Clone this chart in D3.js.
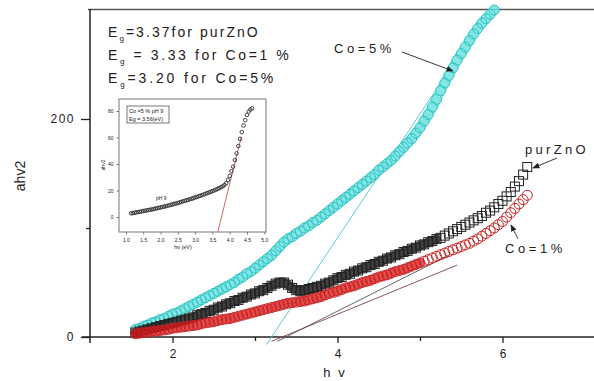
<!DOCTYPE html>
<html>
<head>
<meta charset="utf-8">
<script src="https://cdn.jsdelivr.net/npm/d3@7"></script>
<style>
  body { margin: 0; background: #fff; }
  text { font-family: "Liberation Sans", Arial, sans-serif; fill: #222; }
</style>
</head>
<body>
<div id="chart"></div>
<script>
// photon energy grid (eV) shared by the three main series
const hv = [1.55,1.60,1.65,1.70,1.75,1.80,1.85,1.90,1.95,2.00,2.05,2.10,2.15,2.20,2.25,2.30,2.35,2.40,2.45,2.50,
  2.55,2.60,2.65,2.70,2.75,2.80,2.85,2.90,2.95,3.00,3.05,3.10,3.15,3.20,3.25,3.30,3.35,3.40,3.45,3.50,
  3.55,3.60,3.65,3.70,3.75,3.80,3.85,3.90,3.95,4.00,4.05,4.10,4.15,4.20,4.25,4.30,4.35,4.40,4.45,4.50,
  4.55,4.60,4.65,4.70,4.75,4.80,4.85,4.90,4.95,5.00,5.05,5.10,5.15,5.20,5.25,5.30,5.35,5.40,5.45,5.50,
  5.55,5.60,5.65,5.70,5.75,5.80,5.85,5.90,5.95,6.00,6.05,6.10,6.15,6.20,6.25,6.30];

// Co = 5 % (cyan circles) - goes off the top after 5.9
const co5 = [7,8,10,11,13,14,16,17,19,21,22,24,26,28,30,32,34,36,38,40,
  42,44,46,48,50,53,55,58,60,63,66,69,72,75,79,83,87,90,92,95,
  97,100,102,105,107,110,113,116,119,122,125,128,131,134,137,140,143,146,149,153,
  156,159,162,166,170,174,178,182,187,192,198,204,211,218,226,233,240,247,254,260,
  266,272,278,283,288,292,296,300,null,null,null,null,null,null,null,null];

// pure ZnO (black squares)
const pur = [4,5,6,7,8,9,10,11,12,13,14,15,16,17,18,20,21,22,24,25,
  27,28,30,31,33,34,36,37,39,40,42,43,45,47,49,50,50,48,45,43,
  42,43,44,45,46,47,49,50,52,54,55,57,58,60,61,63,64,66,67,69,
  70,72,73,75,76,78,79,81,82,84,85,87,88,90,91,93,95,97,99,101,
  103,105,107,109,111,114,116,119,122,125,129,133,138,143,149,156];

// Co = 1 % (red circles)
const co1 = [3,3.5,4,4.5,5,5.5,6,6.5,7,8,8.5,9,9.5,10,10.5,11,12,13,13.5,14,
  15,16,16.5,17,18,19,20,21,22,23,24,25,26,27,28,29,30,31,31.5,32,
  32.5,33,34,35,36,37,38.5,40,41,42,43.5,45,46,47,48.5,50,51,52,53.5,55,
  56,57,58.5,60,61,62,63.5,65,66.5,68,69.5,71,72.5,74,75.5,77,78.5,80,81.5,83,
  84.5,86,88,90,92.5,95,97.5,100,103,106,110,114,118,122,126,130];

// tangent lines [hv, ahv2] end points
const fitCo5 = [[3.14, -7], [5.31, 240]];
const fitPur = [[3.27, -4], [5.35, 75]];
const fitCo1 = [[3.20, -4], [5.45, 66]];

const xTicks = [2, 4, 6];
const xMinor = [3, 5];
const yTicks = [0, 200];
const yMinor = [100];

// inset: Co=5% pH 9, [hv, ahv2]
const insetPoints = [[1.15,2.8],[1.20,3.0],[1.25,3.2],[1.30,3.5],[1.35,3.7],[1.40,4.0],[1.45,4.2],[1.50,4.5],
  [1.55,4.7],[1.60,5.0],[1.65,5.2],[1.70,5.5],[1.75,5.7],[1.80,6.0],[1.85,6.3],[1.90,6.6],[1.95,6.9],
  [2.00,7.2],[2.05,7.5],[2.10,7.8],[2.15,8.1],[2.20,8.5],[2.25,8.8],[2.30,9.2],[2.35,9.5],[2.40,9.9],
  [2.45,10.2],[2.50,10.6],[2.55,11.0],[2.60,11.4],[2.65,11.8],[2.70,12.2],[2.75,12.6],[2.80,13.0],
  [2.85,13.4],[2.90,13.8],[2.95,14.2],[3.00,14.7],[3.05,15.1],[3.10,15.6],[3.15,16.0],[3.20,16.5],
  [3.25,17.0],[3.30,17.5],[3.35,18.0],[3.40,18.5],[3.45,19.0],[3.50,19.5],[3.55,20.0],[3.60,20.6],
  [3.65,21.2],[3.70,21.8],[3.75,22.5],[3.80,23.2],[3.85,24.2],[3.90,25.5],[3.95,28],[4.00,31],
  [4.05,34.5],[4.10,38],[4.15,43],[4.20,48],[4.25,53.5],[4.30,59],[4.35,64],[4.40,69],[4.45,73],
  [4.50,77],[4.55,79.5],[4.60,81],[4.65,82]];
const insetFit = [[3.66, -11], [4.33, 60]];
const insetXTicks = [1.0,1.5,2.0,2.5,3.0,3.5,4.0,4.5,5.0];
const insetYTicks = [0,20,40,60,80];

const width = 594, height = 381;

const svg = d3.select("#chart").append("svg")
  .attr("width", width)
  .attr("height", height);

svg.append("rect").attr("width", width).attr("height", height).attr("fill", "#fff");

const x = d3.scaleLinear().domain([1, 7.1]).range([90, 593.25]);
const y = d3.scaleLinear().domain([0, 300]).range([337, 10]);

// frame: top line
svg.append("line")
  .attr("x1", 88).attr("x2", width).attr("y1", 9.5).attr("y2", 9.5)
  .attr("stroke", "#555").attr("stroke-width", 1.5);

// axes
const gx = svg.append("g").attr("transform", "translate(0,337)");
gx.call(d3.axisBottom(x).tickValues(xTicks).tickSize(6).tickFormat(d3.format("d")));
gx.append("g").call(d3.axisBottom(x).tickValues(xMinor).tickSize(4).tickFormat(""));
gx.selectAll(".domain").remove();
gx.append("line").attr("x1", 82).attr("x2", width).attr("stroke", "#222").attr("stroke-width", 1.5);
gx.selectAll(".tick line").attr("stroke", "#222").attr("stroke-width", 1.3);
gx.selectAll(".tick text").attr("font-size", 12).attr("dy", "1.0em").attr("fill", "#333")
  .style("font-family", "Liberation Sans, Arial");

const gy = svg.append("g").attr("transform", "translate(90,0)");
gy.call(d3.axisLeft(y).tickValues(yTicks).tickSize(9).tickFormat(d3.format("d")));
gy.append("g").call(d3.axisLeft(y).tickValues(yMinor).tickSize(4).tickFormat(""));
gy.selectAll(".domain").remove();
gy.append("line").attr("y1", 9).attr("y2", 343).attr("stroke", "#222").attr("stroke-width", 1.5);
gy.selectAll(".tick line").attr("stroke", "#222").attr("stroke-width", 1.3);
gy.selectAll(".tick text").attr("font-size", 12).attr("x", -15).attr("fill", "#333")
  .style("letter-spacing", "1.5px").style("font-family", "Liberation Sans, Arial");

// axis titles
svg.append("text").attr("x", 335).attr("y", 377).attr("text-anchor", "middle")
  .attr("font-size", 13).style("letter-spacing", "2px").text("h v");
svg.append("text").attr("transform", "translate(25,176) rotate(-90)").attr("text-anchor", "middle")
  .attr("font-size", 14).text("ahv2");

// tangent lines
const line = d3.line().x(d => x(d[0])).y(d => y(d[1]));
svg.append("path").attr("d", line(fitCo5)).attr("stroke", "#4cc4c4").attr("stroke-width", 0.9).attr("fill", "none");
svg.append("path").attr("d", line(fitPur)).attr("stroke", "#555").attr("stroke-width", 0.9).attr("fill", "none");
svg.append("path").attr("d", line(fitCo1)).attr("stroke", "#7a4545").attr("stroke-width", 0.9).attr("fill", "none");

// series
function pts(ys) {
  return hv.map((h, i) => ({ h: h, v: ys[i] })).filter(d => d.v != null);
}
// dense overlap of the original symbols, drawn as a band under the markers
const band = d3.line().x(d => x(d.h)).y(d => y(d.v)).curve(d3.curveMonotoneX);
function drawSeries(ys, opt) {
  const p = pts(ys);
  svg.append("path").attr("d", band(p.filter(d => d.h <= opt.bandTo)))
    .attr("fill", "none").attr("stroke", opt.band).attr("stroke-width", opt.bandW)
    .attr("stroke-linecap", "round").attr("opacity", opt.bandOp);
  const g = svg.append("g");
  if (opt.shape === "square") {
    g.selectAll("rect").data(p).join("rect")
      .attr("x", d => x(d.h) - 4.5).attr("y", d => y(d.v) - 4.5).attr("width", 9).attr("height", 9)
      .attr("fill", "none").attr("stroke", opt.color).attr("stroke-width", 1);
  } else {
    g.selectAll("circle").data(p).join("circle")
      .attr("cx", d => x(d.h)).attr("cy", d => y(d.v)).attr("r", 5)
      .attr("fill", "none").attr("stroke", opt.color).attr("stroke-width", 1);
  }
}
drawSeries(co5, { shape: "circle", color: "#2ec4c4", band: "#6fe0e0", bandW: 10, bandOp: 0.85, bandTo: 6 });
drawSeries(pur, { shape: "square", color: "#222", band: "#111", bandW: 9, bandOp: 0.8, bandTo: 5.2 });
drawSeries(co1, { shape: "circle", color: "#c42222", band: "#dc1010", bandW: 9, bandOp: 0.75, bandTo: 5.0 });

// Eg labels
const egLines = [
  { y: 37, rest: "=3.37for purZnO", ls: 2.05 },
  { y: 60, rest: " = 3.33 for Co=1 %", ls: 2.6 },
  { y: 83, rest: "=3.20 for Co=5%", ls: 2.85 }
];
egLines.forEach(l => {
  const t = svg.append("text").attr("x", 108).attr("y", l.y).attr("font-size", 14)
    .style("letter-spacing", l.ls + "px").attr("xml:space", "preserve");
  t.append("tspan").text("E");
  t.append("tspan").attr("dy", 4).attr("font-size", 8).text("g");
  t.append("tspan").attr("dy", -4).text(l.rest);
});

// annotations with arrows
const defs = svg.append("defs");
defs.append("marker").attr("id", "arr").attr("viewBox", "0 0 10 10").attr("refX", 9).attr("refY", 5)
  .attr("markerWidth", 8).attr("markerHeight", 8).attr("orient", "auto")
  .append("path").attr("d", "M0,1 L10,5 L0,9 Z").attr("fill", "#222");

svg.append("text").attr("x", 334).attr("y", 53).attr("font-size", 13)
  .style("letter-spacing", "3.6px").text("Co=5%");
svg.append("line").attr("x1", 402).attr("y1", 52).attr("x2", 453).attr("y2", 71)
  .attr("stroke", "#222").attr("stroke-width", 0.9).attr("marker-end", "url(#arr)");

svg.append("text").attr("x", 525).attr("y", 154).attr("font-size", 13)
  .style("letter-spacing", "3.3px").text("purZnO");
svg.append("line").attr("x1", 557).attr("y1", 158).attr("x2", 533).attr("y2", 168)
  .attr("stroke", "#222").attr("stroke-width", 0.9).attr("marker-end", "url(#arr)");

svg.append("text").attr("x", 505).attr("y", 253).attr("font-size", 13)
  .style("letter-spacing", "3.6px").text("Co=1%");
svg.append("line").attr("x1", 518).attr("y1", 239).attr("x2", 511).attr("y2", 225)
  .attr("stroke", "#222").attr("stroke-width", 0.9).attr("marker-end", "url(#arr)");

// inset
const ix = d3.scaleLinear().domain([0.8, 5.05]).range([119, 266]);
const iy = d3.scaleLinear().domain([-11.3, 89]).range([232, 99]);
const inset = svg.append("g");
inset.append("rect").attr("x", 119).attr("y", 99).attr("width", 147).attr("height", 133)
  .attr("fill", "#fff").attr("stroke", "#777").attr("stroke-width", 1);

const igx = inset.append("g").attr("transform", "translate(0,232)")
  .call(d3.axisBottom(ix).tickValues(insetXTicks).tickSize(2.5).tickFormat(d3.format(".1f")));
const igy = inset.append("g").attr("transform", "translate(119,0)")
  .call(d3.axisLeft(iy).tickValues(insetYTicks).tickSize(2.5).tickFormat(d3.format("d")));
[igx, igy].forEach(g => {
  g.select(".domain").remove();
  g.selectAll(".tick line").attr("stroke", "#777");
  g.selectAll(".tick text").attr("font-size", 5).attr("fill", "#444");
});
igx.selectAll(".tick text").attr("dy", "0.9em");

inset.append("text").attr("x", 183).attr("y", 249).attr("text-anchor", "middle")
  .attr("font-size", 5.5).attr("fill", "#444").text("hv (eV)");
inset.append("text").attr("transform", "translate(105,165) rotate(-90)").attr("text-anchor", "middle")
  .attr("font-size", 5).attr("fill", "#444").text("ahv2");

inset.append("path").attr("d", d3.line().x(d => ix(d[0])).y(d => iy(d[1]))(insetFit))
  .attr("stroke", "#c04040").attr("stroke-width", 0.8).attr("fill", "none");

inset.append("g").selectAll("circle").data(insetPoints).join("circle")
  .attr("cx", d => ix(d[0])).attr("cy", d => iy(d[1])).attr("r", 1.8)
  .attr("fill", "none").attr("stroke", "#333").attr("stroke-width", 0.9);

inset.append("rect").attr("x", 127).attr("y", 106).attr("width", 42).attr("height", 17)
  .attr("fill", "#fff").attr("stroke", "#555").attr("stroke-width", 0.8);
inset.append("text").attr("x", 129).attr("y", 113).attr("font-size", 5.5).attr("fill", "#333").text("Co =5 % pH 9");
inset.append("text").attr("x", 129).attr("y", 120.5).attr("font-size", 5.5).attr("fill", "#333").text("Eg = 3.56(eV)");
inset.append("text").attr("x", 156).attr("y", 200).attr("font-size", 5).attr("fill", "#333").text("pH 9");
</script>
</body>
</html>
